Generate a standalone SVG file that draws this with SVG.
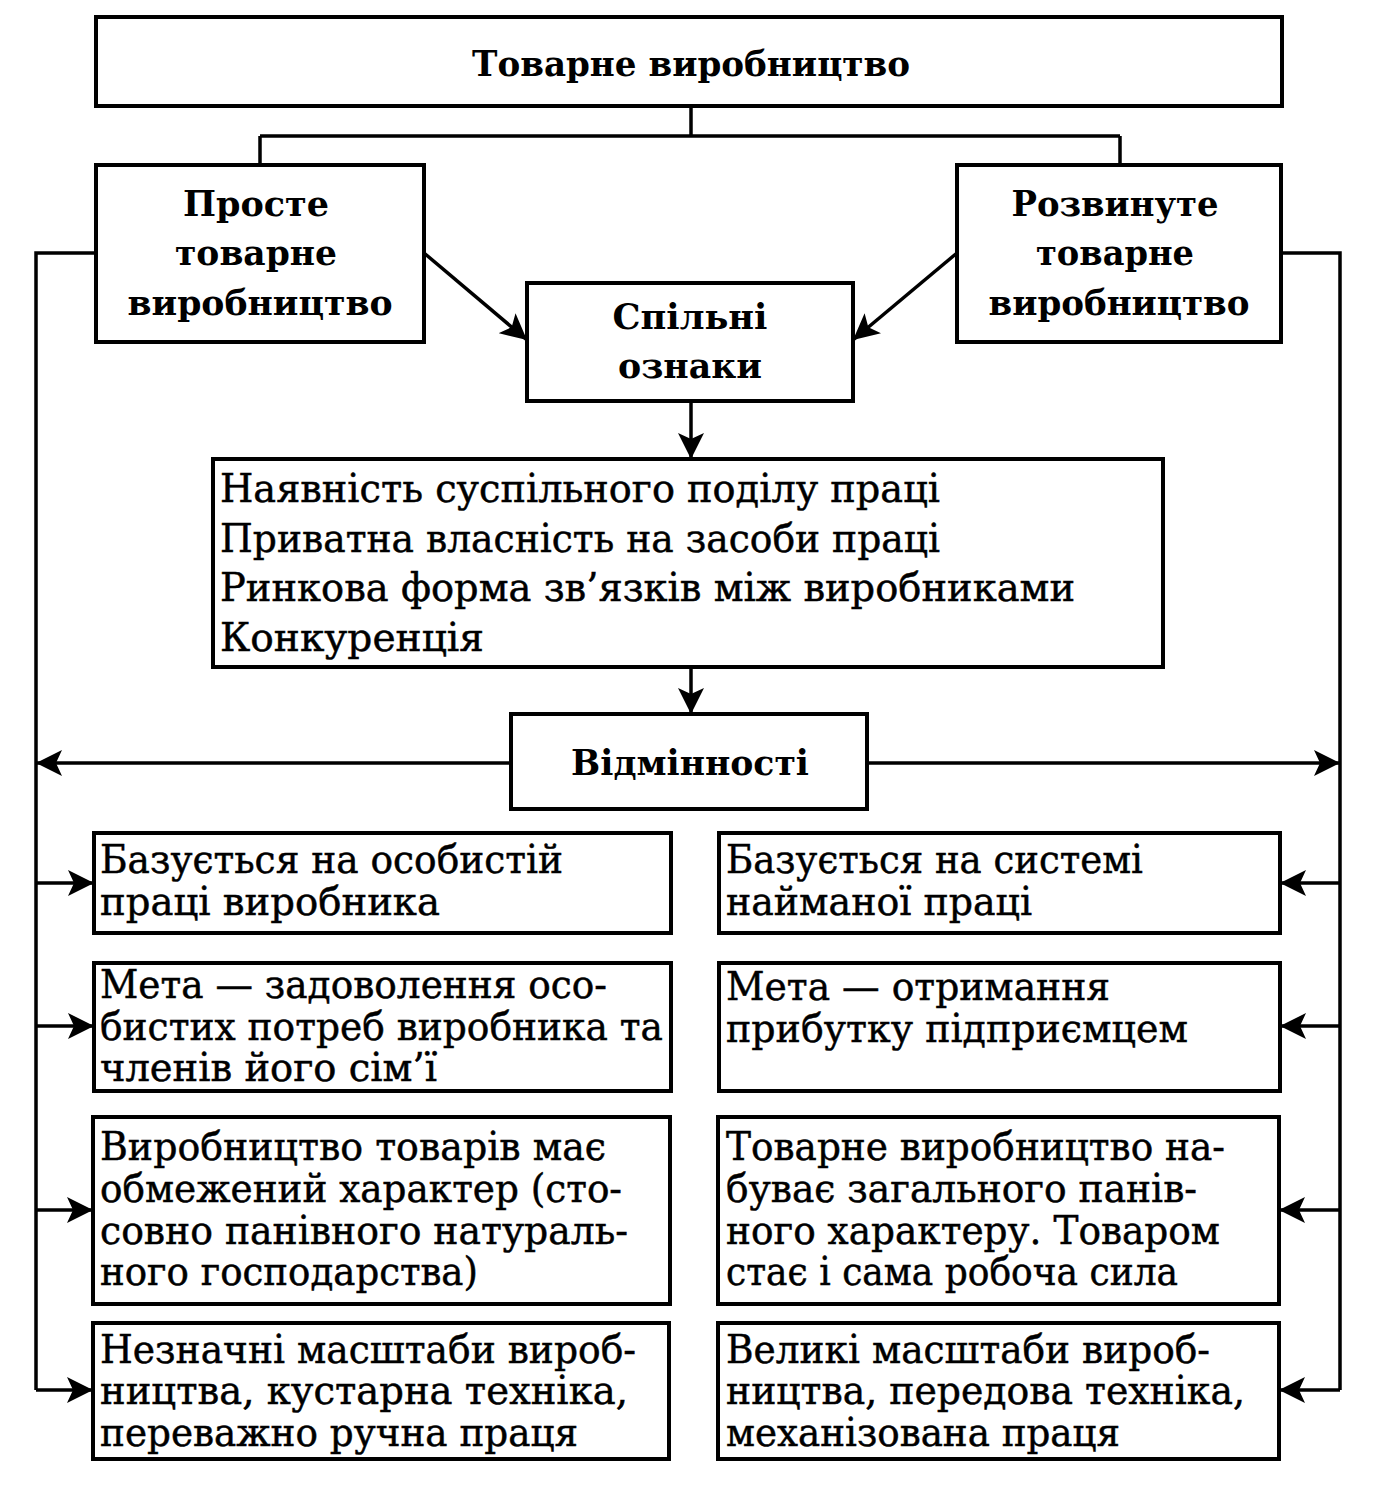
<svg xmlns="http://www.w3.org/2000/svg" width="1386" height="1500" viewBox="0 0 1386 1500">
<style>
.box{fill:#fff;stroke:#000;stroke-width:4}
.ln{fill:none;stroke:#000;stroke-width:3.5}
.b{font-family:"DejaVu Serif","Liberation Serif",serif;font-weight:bold;font-size:36px;text-anchor:middle}
.r{font-family:"DejaVu Serif","Liberation Serif",serif;font-size:39px;stroke:#000;stroke-width:0.5}
</style>
<defs>
<marker id="ah" markerUnits="userSpaceOnUse" markerWidth="28" markerHeight="26" refX="26" refY="13" orient="auto">
<path d="M0,0 L26,13 L0,26 L6,13 Z" fill="#000"/>
</marker>
</defs>
<rect width="1386" height="1500" fill="#fff"/>
<g id="connectors">
<path class="ln" d="M691,106 V136 M260,136 H1120 M260,136 V165 M1120,136 V165"/>
<path class="ln" d="M424,253 L527,340" marker-end="url(#ah)"/>
<path class="ln" d="M957,253 L853,340" marker-end="url(#ah)"/>
<path class="ln" d="M691,401 V459" marker-end="url(#ah)"/>
<path class="ln" d="M691,667 V714" marker-end="url(#ah)"/>
<path class="ln" d="M96,253 H36 V1390"/>
<path class="ln" d="M1282,253 H1340 V1390"/>
<path class="ln" d="M511,763 H36" marker-end="url(#ah)"/>
<path class="ln" d="M867,763 H1340" marker-end="url(#ah)"/>
<path class="ln" d="M36,883 H94" marker-end="url(#ah)"/>
<path class="ln" d="M36,1026 H94" marker-end="url(#ah)"/>
<path class="ln" d="M36,1210 H93" marker-end="url(#ah)"/>
<path class="ln" d="M36,1390 H93" marker-end="url(#ah)"/>
<path class="ln" d="M1340,883 H1280" marker-end="url(#ah)"/>
<path class="ln" d="M1340,1026 H1280" marker-end="url(#ah)"/>
<path class="ln" d="M1340,1210 H1279" marker-end="url(#ah)"/>
<path class="ln" d="M1340,1390 H1279" marker-end="url(#ah)"/>
</g>
<g id="top">
<rect class="box" x="96" y="17" width="1186" height="89"/>
<text class="b" x="691" y="76" textLength="438" lengthAdjust="spacingAndGlyphs">Товарне виробництво</text>
</g>
<g id="simple">
<rect class="box" x="96" y="165" width="328" height="177"/>
<text class="b" x="256" y="216" textLength="146" lengthAdjust="spacingAndGlyphs">Просте</text>
<text class="b" x="256" y="265" textLength="162" lengthAdjust="spacingAndGlyphs">товарне</text>
<text class="b" x="260" y="315" textLength="265" lengthAdjust="spacingAndGlyphs">виробництво</text>
</g>
<g id="developed">
<rect class="box" x="957" y="165" width="324" height="177"/>
<text class="b" x="1115" y="216" textLength="207" lengthAdjust="spacingAndGlyphs">Розвинуте</text>
<text class="b" x="1115" y="265" textLength="158" lengthAdjust="spacingAndGlyphs">товарне</text>
<text class="b" x="1119" y="315" textLength="261" lengthAdjust="spacingAndGlyphs">виробництво</text>
</g>
<g id="common">
<rect class="box" x="527" y="283" width="326" height="118"/>
<text class="b" x="690" y="329" textLength="155" lengthAdjust="spacingAndGlyphs">Спільні</text>
<text class="b" x="690" y="378" textLength="144" lengthAdjust="spacingAndGlyphs">ознаки</text>
</g>
<g id="features">
<rect class="box" x="213" y="459" width="950" height="208"/>
<text class="r" x="220" y="502" textLength="720" lengthAdjust="spacingAndGlyphs">Наявність суспільного поділу праці</text>
<text class="r" x="220" y="552" textLength="720" lengthAdjust="spacingAndGlyphs">Приватна власність на засоби праці</text>
<text class="r" x="220" y="601" textLength="855" lengthAdjust="spacingAndGlyphs">Ринкова форма зв’язків між виробниками</text>
<text class="r" x="220" y="651" textLength="264" lengthAdjust="spacingAndGlyphs">Конкуренція</text>
</g>
<g id="differences">
<rect class="box" x="511" y="714" width="356" height="95"/>
<text class="b" x="690" y="775" textLength="238" lengthAdjust="spacingAndGlyphs">Відмінності</text>
</g>
<g id="left1">
<rect class="box" x="94" y="833" width="577" height="100"/>
<text class="r" x="100" y="873" textLength="463" lengthAdjust="spacingAndGlyphs">Базується на особистій</text>
<text class="r" x="100" y="915" textLength="340" lengthAdjust="spacingAndGlyphs">праці виробника</text>
</g>
<g id="left2">
<rect class="box" x="94" y="963" width="577" height="128"/>
<text class="r" x="100" y="998" textLength="507" lengthAdjust="spacingAndGlyphs">Мета — задоволення осо-</text>
<text class="r" x="100" y="1040" textLength="563" lengthAdjust="spacingAndGlyphs">бистих потреб виробника та</text>
<text class="r" x="100" y="1081" textLength="337" lengthAdjust="spacingAndGlyphs">членів його сім’ї</text>
</g>
<g id="left3">
<rect class="box" x="93" y="1117" width="577" height="187"/>
<text class="r" x="100" y="1160" textLength="506" lengthAdjust="spacingAndGlyphs">Виробництво товарів має</text>
<text class="r" x="100" y="1202" textLength="522" lengthAdjust="spacingAndGlyphs">обмежений характер (сто-</text>
<text class="r" x="100" y="1244" textLength="528" lengthAdjust="spacingAndGlyphs">совно панівного натураль-</text>
<text class="r" x="100" y="1285" textLength="378" lengthAdjust="spacingAndGlyphs">ного господарства)</text>
</g>
<g id="left4">
<rect class="box" x="93" y="1323" width="576" height="136"/>
<text class="r" x="100" y="1363" textLength="536" lengthAdjust="spacingAndGlyphs">Незначні масштаби вироб-</text>
<text class="r" x="100" y="1404" textLength="528" lengthAdjust="spacingAndGlyphs">ництва, кустарна техніка,</text>
<text class="r" x="100" y="1446" textLength="478" lengthAdjust="spacingAndGlyphs">переважно ручна праця</text>
</g>
<g id="right1">
<rect class="box" x="719" y="833" width="561" height="100"/>
<text class="r" x="726" y="873" textLength="417" lengthAdjust="spacingAndGlyphs">Базується на системі</text>
<text class="r" x="726" y="915" textLength="306" lengthAdjust="spacingAndGlyphs">найманої праці</text>
</g>
<g id="right2">
<rect class="box" x="719" y="963" width="561" height="128"/>
<text class="r" x="726" y="1000" textLength="384" lengthAdjust="spacingAndGlyphs">Мета — отримання</text>
<text class="r" x="726" y="1042" textLength="462" lengthAdjust="spacingAndGlyphs">прибутку підприємцем</text>
</g>
<g id="right3">
<rect class="box" x="718" y="1117" width="561" height="187"/>
<text class="r" x="726" y="1160" textLength="499" lengthAdjust="spacingAndGlyphs">Товарне виробництво на-</text>
<text class="r" x="726" y="1202" textLength="471" lengthAdjust="spacingAndGlyphs">буває загального панів-</text>
<text class="r" x="726" y="1244" textLength="494" lengthAdjust="spacingAndGlyphs">ного характеру. Товаром</text>
<text class="r" x="726" y="1285" textLength="452" lengthAdjust="spacingAndGlyphs">стає і сама робоча сила</text>
</g>
<g id="right4">
<rect class="box" x="718" y="1323" width="561" height="136"/>
<text class="r" x="726" y="1363" textLength="484" lengthAdjust="spacingAndGlyphs">Великі масштаби вироб-</text>
<text class="r" x="726" y="1404" textLength="519" lengthAdjust="spacingAndGlyphs">ництва, передова техніка,</text>
<text class="r" x="726" y="1446" textLength="394" lengthAdjust="spacingAndGlyphs">механізована праця</text>
</g>
</svg>
